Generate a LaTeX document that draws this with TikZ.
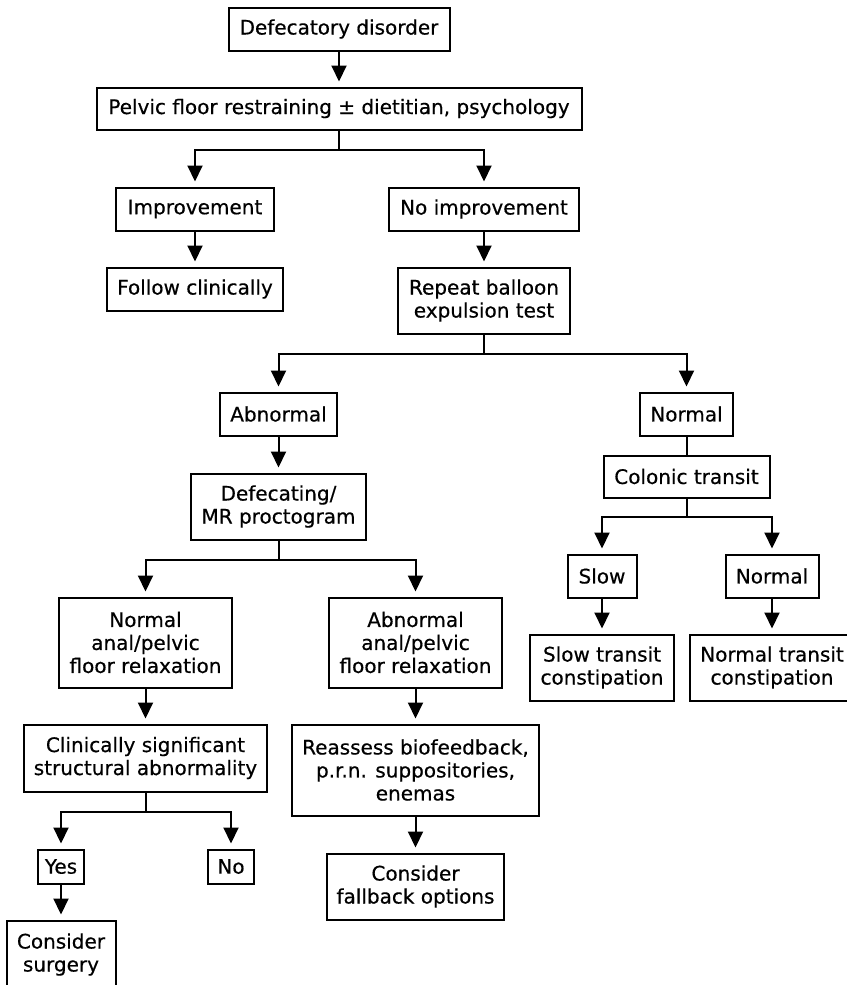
\documentclass[tikz,border=0pt]{standalone}
\usepackage{fontspec}
\setmainfont{DejaVu Sans}[FakeBold=0.5]
\usepackage{tikz}
\usetikzlibrary{arrows.meta, positioning}

\begin{document}
\begin{tikzpicture}[>={Triangle[width=7.5pt,length=8pt]}, line width=1pt,
    box/.style={draw, rectangle, align=center, inner xsep=3pt, inner ysep=0pt, outer sep=0pt,
        minimum height=21.5pt, font=\fontsize{10}{11.5}\selectfont},
    two/.style={minimum height=33pt},
    three/.style={minimum height=45pt},
    small/.style={minimum height=17pt},
    shorten >=3pt
]
    \useasboundingbox (0,0) rectangle (423pt,-492.5pt);

    % Top
    \node[box, minimum width=110.5pt] (disorder) at (169.5pt,-14.5pt) {Defecatory disorder};
    \node[box, minimum width=242.5pt, minimum height=21pt, below=18.5pt of disorder] (pelvic)
        {Pelvic floor restraining ± dietitian, psychology};
    \node[box, minimum width=79pt, below=29pt of pelvic, xshift=-72pt] (improve) {Improvement};
    \node[box, minimum width=95pt, below=29pt of pelvic, xshift=72.5pt] (noimprove) {No improvement};
    \node[box, minimum width=88pt, below=18.5pt of improve] (follow) {Follow clinically};
    \node[box, two, minimum width=86pt, below=18.5pt of noimprove] (balloon)
        {Repeat balloon\\expulsion test};

    % Lines
    \draw[->] (disorder) -- (pelvic);
    \draw[->] (pelvic.south) -- ++(0,-10pt) -| (improve.north);
    \draw[->] (pelvic.south) -- ++(0,-10pt) -| (noimprove.north);
    \draw[->] (improve) -- (follow);
    \draw[->] (noimprove) -- (balloon);

    % Balloon test result
    \node[box, minimum width=58.5pt, below=29.5pt of balloon, xshift=-102.75pt] (abnormal) {Abnormal};
    \node[box, minimum width=46.5pt, below=29.5pt of balloon, xshift=101.25pt] (normal) {Normal};
    \node[box, two, minimum width=87.5pt, below=19pt of abnormal] (proctogram)
        {Defecating/\\MR proctogram};
    \node[box, minimum width=83pt, minimum height=21pt, below=10pt of normal] (colonic) {Colonic transit};

    \draw[->] (balloon.south) -- ++(0,-10pt) -| (abnormal.north);
    \draw[->] (balloon.south) -- ++(0,-10pt) -| (normal.north);
    \draw[->] (abnormal) -- (proctogram);
    \draw[shorten >=0pt] (normal) -- (colonic);

    % Right part with transit
    \node[box, minimum width=34.5pt, below=28.5pt of colonic, xshift=-42.25pt] (slow) {Slow};
    \node[box, minimum width=46.5pt, below=28.5pt of colonic, xshift=42.75pt] (normaltr) {Normal};
    \node[box, two, minimum width=72pt, below=18.5pt of slow] (slowcon)
        {Slow transit\\constipation};
    \node[box, two, minimum width=82pt, below=18.5pt of normaltr] (normalcon)
        {Normal transit\\constipation};

    \draw[->] (colonic.south) -- ++(0,-9.5pt) -| (slow.north);
    \draw[->] (colonic.south) -- ++(0,-9.5pt) -| (normaltr.north);
    \draw[->] (slow) -- (slowcon);
    \draw[->] (normaltr) -- (normalcon);

    % Left part with proctogram
    \node[box, three, minimum width=86.5pt, below=29pt of proctogram, xshift=-66.5pt] (relaxok)
        {Normal\\anal/pelvic\\floor relaxation};
    \node[box, three, minimum width=86.5pt, below=29pt of proctogram, xshift=68.5pt] (relaxbad)
        {Abnormal\\anal/pelvic\\floor relaxation};
    \node[box, two, minimum width=121.5pt, minimum height=33.5pt, below=18.5pt of relaxok] (structural)
        {Clinically significant\\structural abnormality};
    \node[box, three, minimum width=123.5pt, minimum height=45.5pt, below=18.5pt of relaxbad] (reassess)
        {Reassess biofeedback,\\p.r.n. suppositories,\\enemas};
    \node[box, two, minimum width=88.5pt, below=19pt of reassess] (fallback)
        {Consider\\fallback options};

    \draw[->] (proctogram.south) -- ++(0,-10pt) -| (relaxok.north);
    \draw[->] (proctogram.south) -- ++(0,-10pt) -| (relaxbad.north);
    \draw[->] (relaxok) -- (structural);
    \draw[->] (relaxbad) -- (reassess);
    \draw[->] (reassess) -- (fallback);

    % Yes / no
    \node[box, small, minimum width=23pt, below=29pt of structural, xshift=-42.25pt] (yes) {Yes};
    \node[box, small, minimum width=23pt, below=29pt of structural, xshift=42.75pt] (no) {No};
    \node[box, two, minimum width=54.5pt, minimum height=34pt, below=18.5pt of yes] (surgery)
        {Consider\\surgery};

    \draw[->] (structural.south) -- ++(0,-10pt) -| (yes.north);
    \draw[->] (structural.south) -- ++(0,-10pt) -| (no.north);
    \draw[->] (yes) -- (surgery);
\end{tikzpicture}
\end{document}
